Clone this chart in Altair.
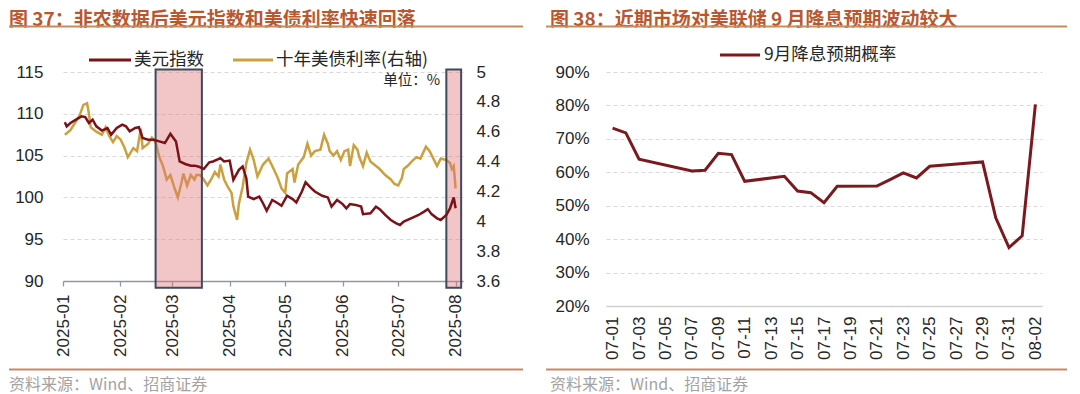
import altair as alt
import pandas as pd

# ---------------- Left chart data (图 37) ----------------
dxy_dates = ["2025-01-02","2025-01-03","2025-01-05","2025-01-08","2025-01-11","2025-01-13","2025-01-15","2025-01-17","2025-01-19","2025-01-22","2025-01-25","2025-01-27","2025-01-30",
             "2025-02-02","2025-02-04","2025-02-06","2025-02-09","2025-02-11","2025-02-13","2025-02-16","2025-02-19","2025-02-22","2025-02-25","2025-02-28",
             "2025-03-03","2025-03-05","2025-03-08","2025-03-11","2025-03-13","2025-03-15","2025-03-18","2025-03-21","2025-03-23","2025-03-27","2025-03-29",
             "2025-04-01","2025-04-03","2025-04-06","2025-04-08","2025-04-10","2025-04-11","2025-04-14","2025-04-17","2025-04-19","2025-04-21","2025-04-24","2025-04-27","2025-04-29",
             "2025-05-02","2025-05-05","2025-05-07","2025-05-10","2025-05-12","2025-05-15","2025-05-17","2025-05-21","2025-05-24","2025-05-26","2025-05-29",
             "2025-06-01","2025-06-03","2025-06-05","2025-06-08","2025-06-11","2025-06-12","2025-06-16","2025-06-19","2025-06-21","2025-06-24","2025-06-27","2025-06-30",
             "2025-07-02","2025-07-04","2025-07-07","2025-07-10","2025-07-12","2025-07-15","2025-07-17","2025-07-19","2025-07-22","2025-07-24","2025-07-27","2025-07-29","2025-07-31",
             "2025-08-01"]
dxy_values = [109.0,108.5,108.9,109.3,109.7,109.6,108.9,109.3,108.5,108.0,108.3,107.5,108.3,
              108.7,108.5,107.9,108.3,108.4,107.1,106.9,106.9,106.7,106.5,107.6,
              106.7,104.3,104.0,103.8,103.8,103.7,103.4,104.2,104.3,104.7,104.3,
              104.4,102.1,103.3,103.7,102.3,100.1,99.8,100.1,99.3,98.4,99.7,99.3,99.0,
              100.2,99.8,99.4,100.7,101.8,101.1,100.7,100.2,100.0,98.9,99.7,
              99.2,98.7,99.2,99.1,98.9,98.0,98.1,98.9,98.6,97.9,97.3,96.9,
              96.7,97.1,97.4,97.7,97.9,98.3,98.6,98.0,97.5,97.3,97.9,98.7,100.0,
              98.7]

ust_dates = ["2025-01-02","2025-01-05","2025-01-07","2025-01-10","2025-01-12","2025-01-14","2025-01-15","2025-01-16","2025-01-19","2025-01-22","2025-01-24","2025-01-26","2025-01-28","2025-01-30",
             "2025-02-01","2025-02-03","2025-02-05","2025-02-08","2025-02-10","2025-02-12","2025-02-13","2025-02-16","2025-02-18","2025-02-20","2025-02-22","2025-02-24","2025-02-26","2025-02-28",
             "2025-03-02","2025-03-04","2025-03-06","2025-03-07","2025-03-09","2025-03-11","2025-03-13","2025-03-14","2025-03-16","2025-03-18","2025-03-20","2025-03-22","2025-03-24","2025-03-26","2025-03-27","2025-03-29","2025-03-31",
             "2025-04-02","2025-04-03","2025-04-05","2025-04-06","2025-04-08","2025-04-10","2025-04-12","2025-04-14","2025-04-16","2025-04-19","2025-04-22","2025-04-24","2025-04-27","2025-04-29",
             "2025-05-01","2025-05-02","2025-05-05","2025-05-06","2025-05-08","2025-05-11","2025-05-13","2025-05-15","2025-05-17","2025-05-20","2025-05-22","2025-05-24","2025-05-25","2025-05-27","2025-05-29","2025-05-31",
             "2025-06-02","2025-06-04","2025-06-05","2025-06-07","2025-06-09","2025-06-10","2025-06-12","2025-06-14","2025-06-16","2025-06-19","2025-06-21","2025-06-24","2025-06-27","2025-06-29",
             "2025-07-01","2025-07-03","2025-07-04","2025-07-06","2025-07-09","2025-07-11","2025-07-13","2025-07-16","2025-07-18","2025-07-20","2025-07-22","2025-07-24","2025-07-27","2025-07-29","2025-07-30","2025-07-31",
             "2025-08-01"]
ust_values = [4.58,4.61,4.65,4.71,4.78,4.79,4.72,4.63,4.60,4.58,4.63,4.57,4.53,4.57,
              4.55,4.50,4.43,4.49,4.47,4.62,4.49,4.52,4.56,4.53,4.43,4.37,4.28,4.31,
              4.23,4.16,4.26,4.32,4.24,4.31,4.28,4.31,4.31,4.28,4.24,4.28,4.33,4.30,4.38,4.28,4.23,
              4.19,4.10,4.01,4.12,4.23,4.39,4.48,4.41,4.30,4.38,4.42,4.37,4.29,4.22,
              4.19,4.32,4.35,4.26,4.38,4.43,4.52,4.44,4.47,4.48,4.58,4.52,4.47,4.44,4.47,4.41,
              4.47,4.48,4.37,4.51,4.48,4.43,4.37,4.46,4.40,4.37,4.35,4.31,4.28,4.25,
              4.24,4.29,4.35,4.37,4.41,4.43,4.42,4.50,4.47,4.42,4.37,4.42,4.41,4.39,4.35,4.37,
              4.22]

shade_start = ["2025-02-20", "2025-07-27"]
shade_end = ["2025-03-17", "2025-08-04"]
shade_top = [115.3, 115.3]      # left-axis units
shade_bottom = [89.2, 89.2]

left_ticks = [90, 95, 100, 105, 110, 115]
right_ticks = [3.6, 3.8, 4.0, 4.2, 4.4, 4.6, 4.8, 5.0]
month_numbers = [1, 2, 3, 4, 5, 6, 7, 8]

# ---------------- Right chart data (图 38) ----------------
all_days = ["07-%02d" % d for d in range(1, 32)] + ["08-01", "08-02"]
label_days = all_days[::2]
cut_dates = ["07-01","07-02","07-03","07-07","07-08","07-09","07-10","07-11","07-14","07-15","07-16","07-17",
             "07-18","07-21","07-22","07-23","07-24","07-25","07-28","07-29","07-30","07-31","08-01","08-02"]
cut_probs = [73.2,71.8,63.9,60.4,60.6,65.7,65.3,57.3,58.8,54.4,53.9,50.9,
             55.8,55.9,57.8,59.8,58.3,61.8,62.8,63.1,46.4,37.5,41.0,80.3]
pct_ticks = [20, 30, 40, 50, 60, 70, 80, 90]

# ---------------- styling ----------------
CJK = "Noto Sans CJK SC"
NUM = "Liberation Sans"
TITLE_C = "#B9582F"
RULE_C = "#C98A62"
FOOT_C = "#A3A3A3"
TXT_C = "#262626"
RED = "#7A1218"
GOLD = "#CCA03E"
GRID_C = "#D9D9D9"

TITLE_Y = -52
TITLE_RULE_Y = -45.5
FOOT_RULE_Y = 297.5
FOOT_Y = 312.5


def label(txt, x, y, size, color, weight="normal", align="left", font=CJK):
    return alt.Chart(pd.DataFrame({"t": [txt]})).mark_text(
        align=align, baseline="middle", fontSize=size, color=color,
        fontWeight=weight, font=font
    ).encode(x=alt.value(x), y=alt.value(y), text="t:N")


def hline(x1, x2, y, color, width):
    return alt.Chart(pd.DataFrame({"a": [0]})).mark_rule(
        color=color, strokeWidth=width
    ).encode(x=alt.value(x1), x2=alt.value(x2), y=alt.value(y))


# ---------------- Left panel ----------------
W1, H1 = 400, 209
dxy_df = pd.DataFrame({"date": dxy_dates, "v": dxy_values})
ust_df = pd.DataFrame({"date": ust_dates, "v": ust_values})
shade_df = pd.DataFrame({"start": shade_start, "end": shade_end, "top": shade_top, "bottom": shade_bottom})

xscale = alt.Scale(type="utc", domain=[alt.DateTime(year=2025, month=1, date=1, utc=True),
                                      alt.DateTime(year=2025, month=8, date=5, utc=True)])
xaxis = alt.Axis(values=[alt.DateTime(year=2025, month=m, date=1, utc=True) for m in month_numbers],
                 format="%Y-%m", labelAngle=270, labelFontSize=17, labelFont=NUM, labelColor=TXT_C,
                 domainColor="#8E97A8", domainWidth=1.3, tickColor="#8E97A8", tickSize=5, tickWidth=1.3,
                 labelPadding=8, grid=False, title=None)
lscale = alt.Scale(domain=[90, 115], nice=False, zero=False)
laxis = alt.Axis(values=left_ticks, labelFontSize=17, labelFont=NUM, labelColor=TXT_C,
                 domain=False, ticks=False, tickSize=0, labelPadding=20, grid=True,
                 gridDash=[4, 3], gridColor=GRID_C, gridWidth=1, title=None, orient="left")
rscale = alt.Scale(domain=[3.6, 5.0], nice=False, zero=False)
raxis = alt.Axis(values=right_ticks, format="~g", labelFontSize=17, labelFont=NUM, labelColor=TXT_C,
                 domain=False, ticks=False, tickSize=0, labelPadding=13, grid=False,
                 title=None, orient="right")

ust_line = alt.Chart(ust_df).mark_line(color=GOLD, strokeWidth=2.5).encode(
    x=alt.X("date:T", scale=xscale, axis=xaxis),
    y=alt.Y("v:Q", scale=rscale, axis=raxis),
)
shade = alt.Chart(shade_df).mark_rect(
    fill="#E07878", fillOpacity=0.42, stroke="#3E4A5F", strokeWidth=2, strokeOpacity=1
).encode(
    x=alt.X("start:T", scale=xscale, axis=xaxis),
    x2="end:T",
    y=alt.Y("top:Q", scale=lscale, axis=laxis),
    y2="bottom:Q",
)
dxy_line = alt.Chart(dxy_df).mark_line(color=RED, strokeWidth=2.5).encode(
    x=alt.X("date:T", scale=xscale, axis=xaxis),
    y=alt.Y("v:Q", scale=lscale, axis=laxis),
)

left = alt.layer(
    ust_line,
    alt.layer(shade, dxy_line),
    label("图 37：非农数据后美元指数和美债利率快速回落", -54, TITLE_Y, 19, TITLE_C, weight="bold"),
    hline(-54, 460, TITLE_RULE_Y, RULE_C, 2),
    hline(26, 68, -12, RED, 3),
    label("美元指数", 71, -12, 17.5, TXT_C),
    hline(170, 210, -12, GOLD, 3),
    label("十年美债利率(右轴)", 213, -12, 17.5, TXT_C),
    label("单位：%", 377, 9, 14.5, TXT_C, align="right"),
    hline(-54, 460, FOOT_RULE_Y, RULE_C, 2),
    label("资料来源：Wind、招商证券", -54, FOOT_Y, 16, FOOT_C),
).resolve_scale(y="independent").properties(width=W1, height=H1)

# ---------------- Right panel ----------------
W2, H2 = 436, 234
cut_df = pd.DataFrame({"d": cut_dates, "p": cut_probs})
cut_line = alt.Chart(cut_df).mark_line(color="#7B1A1E", strokeWidth=3).encode(
    x=alt.X("d:O", scale=alt.Scale(type="point", domain=all_days, padding=0.5),
            axis=alt.Axis(values=label_days, labelAngle=270, labelFontSize=17, labelFont=NUM,
                          labelColor=TXT_C, ticks=False, tickSize=0, domainColor="#D0D0D0",
                          domainWidth=1.5, labelPadding=10, grid=False, title=None)),
    y=alt.Y("p:Q", scale=alt.Scale(domain=[20, 90], nice=False, zero=False),
            axis=alt.Axis(values=pct_ticks, labelExpr="datum.value + '%'", labelFontSize=17,
                          labelFont=NUM, labelColor=TXT_C, domain=False, ticks=False, tickSize=0,
                          labelPadding=17, grid=True, gridDash=[4, 3], gridColor=GRID_C,
                          title=None)),
)

right = alt.layer(
    cut_line,
    label("图 38：近期市场对美联储 9 月降息预期波动较大", -56, TITLE_Y, 19, TITLE_C, weight="bold"),
    hline(-60, 461, TITLE_RULE_Y, RULE_C, 2),
    hline(114, 154, -17, "#7B1A1E", 3),
    label("9月降息预期概率", 158, -17, 17.5, TXT_C),
    hline(-60, 461, FOOT_RULE_Y, RULE_C, 2),
    label("资料来源：Wind、招商证券", -56, FOOT_Y, 16, FOOT_C),
).properties(width=W2, height=H2)

chart = alt.hconcat(left, right, spacing=21).properties(
    padding={"top": 3, "bottom": 3, "left": 0, "right": 0}
).configure_view(stroke=None)

chart.save("out.html", embed_options={"renderer": "svg", "actions": False})
